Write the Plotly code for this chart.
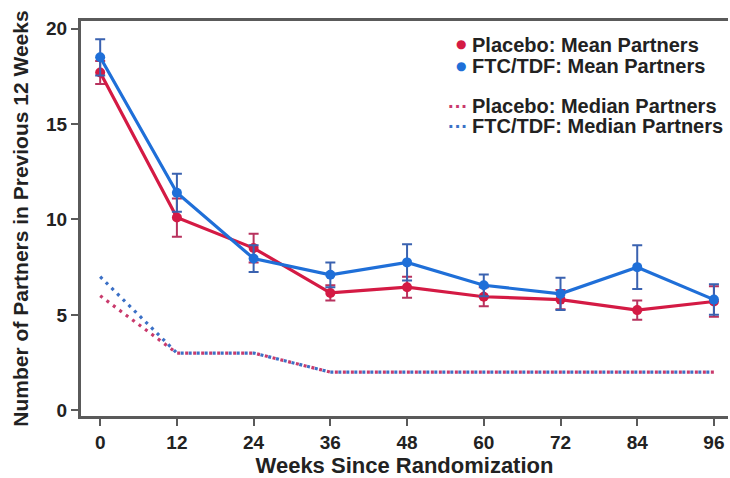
import plotly.graph_objects as go

weeks = [0, 12, 24, 36, 48, 60, 72, 84, 96]
x_ticks = [0, 12, 24, 36, 48, 60, 72, 84, 96]
y_ticks = [0, 5, 10, 15, 20]

placebo_mean = [17.7, 10.1, 8.5, 6.15, 6.45, 5.95, 5.8, 5.25, 5.7]
placebo_err = [0.6, 1.0, 0.75, 0.4, 0.55, 0.5, 0.5, 0.5, 0.8]
ftc_mean = [18.5, 11.4, 7.95, 7.1, 7.75, 6.55, 6.1, 7.5, 5.8]
ftc_err = [0.95, 1.0, 0.7, 0.65, 0.95, 0.57, 0.85, 1.15, 0.8]

placebo_median = [6, 3, 3, 2, 2, 2, 2, 2, 2]
ftc_median = [7, 3, 3, 2, 2, 2, 2, 2, 2]

legend_labels = ["Placebo: Mean Partners", "FTC/TDF: Mean Partners",
                 "Placebo: Median Partners", "FTC/TDF: Median Partners"]

RED = "#d41a44"
BLUE = "#1f6fd8"
RED_ERR = "#b8325e"
BLUE_ERR = "#3a62b0"
RED_DOT = "#c93a6c"
BLUE_DOT = "#3b70c6"
FONT = "Liberation Sans"

fig = go.Figure()

# median dotted lines
fig.add_trace(go.Scatter(x=weeks, y=placebo_median, mode="lines",
                         line=dict(color=RED_DOT, width=3.2, dash="3px,5px"),
                         name=legend_labels[2], showlegend=False))
fig.add_trace(go.Scatter(x=weeks, y=ftc_median, mode="lines",
                         line=dict(color=BLUE_DOT, width=3.2, dash="3px,5px"),
                         name=legend_labels[3], showlegend=False))

# mean lines with error bars
fig.add_trace(go.Scatter(x=weeks, y=placebo_mean, mode="lines+markers",
                         line=dict(color=RED, width=3.2),
                         marker=dict(color=RED, size=10),
                         error_y=dict(type="data", array=placebo_err, color=RED_ERR,
                                      thickness=2, width=5),
                         name=legend_labels[0], showlegend=False))
fig.add_trace(go.Scatter(x=weeks, y=ftc_mean, mode="lines+markers",
                         line=dict(color=BLUE, width=3.2),
                         marker=dict(color=BLUE, size=10),
                         error_y=dict(type="data", array=ftc_err, color=BLUE_ERR,
                                      thickness=2, width=5),
                         name=legend_labels[1], showlegend=False))

# legend built from text rows
legend_y = [0.940, 0.885, 0.785, 0.733]
text_x = 0.601
# mean rows: colored dot + label
for col, lab, ly in zip([RED, BLUE], legend_labels[:2], legend_y[:2]):
    fig.add_annotation(xref="paper", yref="paper", x=text_x - 0.003, y=ly + 0.002,
                       xanchor="right", yanchor="middle", showarrow=False,
                       text="●", font=dict(family="DejaVu Sans", size=12, color=col))
    fig.add_annotation(xref="paper", yref="paper", x=text_x, y=ly,
                       xanchor="left", yanchor="middle", showarrow=False,
                       text=lab,
                       font=dict(family=FONT, size=20, color="#222", weight="bold"))
# median rows: dotted sample + label
for col, lab, ly in zip([RED_DOT, BLUE_DOT], legend_labels[2:], legend_y[2:]):
    fig.add_annotation(xref="paper", yref="paper", x=text_x, y=ly,
                       xanchor="right", yanchor="middle", showarrow=False,
                       text="···", font=dict(family=FONT, size=20, color=col, weight="bold"))
    fig.add_annotation(xref="paper", yref="paper", x=text_x, y=ly,
                       xanchor="left", yanchor="middle", showarrow=False,
                       text=lab,
                       font=dict(family=FONT, size=20, color="#222", weight="bold"))

axis_common = dict(
    showgrid=False, zeroline=False, showline=True,
    linecolor="#5a5a5a", linewidth=3,
    ticks="outside", ticklen=7, tickwidth=2, tickcolor="#5a5a5a",
    tickfont=dict(family=FONT, size=19, color="#222", weight="bold"),
)

fig.update_layout(
    width=730, height=478,
    margin=dict(l=81, r=2, t=21, b=58),
    paper_bgcolor="white", plot_bgcolor="white",
    font=dict(family=FONT, color="#222"),
    showlegend=False,
    xaxis=dict(range=[-3, 98.2], tickvals=x_ticks, mirror=True,
               title=dict(text="Weeks Since Randomization", standoff=8,
                          font=dict(family=FONT, size=22, color="#222", weight="bold")),
               **axis_common),
    yaxis=dict(range=[-0.3, 20.4], tickvals=y_ticks,
               title=dict(text="Number of Partners in Previous 12 Weeks", standoff=12,
                          font=dict(family=FONT, size=21, color="#222", weight="bold")),
               **axis_common),
)

fig.write_html("out.html")
